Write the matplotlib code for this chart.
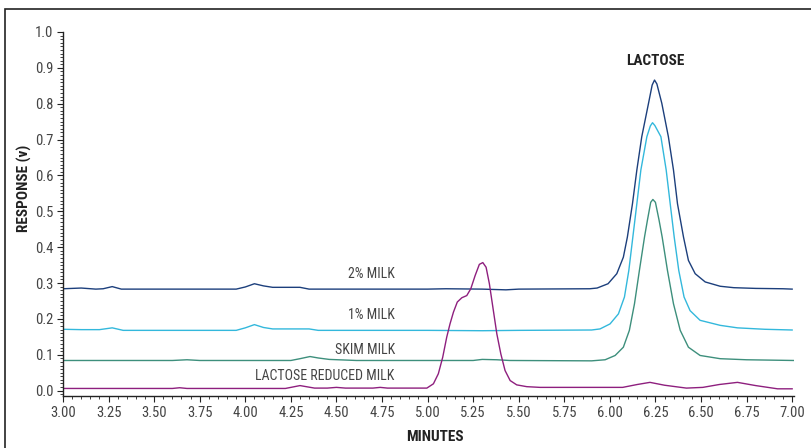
import matplotlib
matplotlib.use("Agg")
import matplotlib.pyplot as plt
from matplotlib import font_manager
from matplotlib.patches import Rectangle
from matplotlib.ticker import MultipleLocator, FormatStrFormatter

# narrow font if there is one, otherwise Liberation Sans
names = set(f.name for f in font_manager.fontManager.ttflist)
fams = [n for n in ['Liberation Sans Narrow', 'Roboto Condensed', 'DejaVu Sans Condensed']
        if n in names] + ['Liberation Sans', 'DejaVu Sans']
plt.rcParams['font.family'] = fams

# retention time (min) / response (v)
t_2pct = [3.00, 3.10, 3.18, 3.22, 3.27, 3.32, 3.40, 3.95, 4.00, 4.05, 4.10, 4.15,
          4.20, 4.30, 4.35, 4.40, 5.00, 5.10, 5.30, 5.43, 5.50, 5.89, 5.93, 5.99,
          6.038, 6.074, 6.096, 6.124, 6.148, 6.175, 6.212, 6.232, 6.245, 6.258, 6.285,
          6.321, 6.349, 6.371, 6.404, 6.431, 6.468, 6.523, 6.605, 6.68, 6.80, 6.95, 7.00]
r_2pct = [0.284, 0.286, 0.283, 0.284, 0.290, 0.283, 0.283, 0.283, 0.289, 0.298, 0.292, 0.288,
          0.288, 0.288, 0.283, 0.283, 0.283, 0.284, 0.283, 0.281, 0.283, 0.284, 0.286, 0.298,
          0.326, 0.372, 0.428, 0.521, 0.615, 0.708, 0.801, 0.852, 0.866, 0.855, 0.801,
          0.708, 0.615, 0.521, 0.428, 0.363, 0.326, 0.303, 0.291, 0.287, 0.285, 0.284, 0.283]

t_1pct = [3.00, 3.10, 3.20, 3.27, 3.33, 3.40, 3.95, 4.00, 4.05, 4.10, 4.15, 4.35,
          4.40, 5.00, 5.30, 5.50, 5.90, 5.946, 6.001, 6.047, 6.080, 6.104, 6.126, 6.148,
          6.170, 6.203, 6.222, 6.234, 6.247, 6.280, 6.309, 6.331, 6.353, 6.378, 6.407,
          6.440, 6.495, 6.605, 6.70, 6.85, 7.00]
r_1pct = [0.171, 0.170, 0.170, 0.175, 0.168, 0.168, 0.168, 0.175, 0.184, 0.176, 0.172, 0.172,
          0.168, 0.168, 0.167, 0.168, 0.169, 0.172, 0.186, 0.214, 0.261, 0.335, 0.428, 0.521,
          0.615, 0.708, 0.738, 0.747, 0.739, 0.708, 0.615, 0.521, 0.428, 0.335, 0.261,
          0.223, 0.196, 0.182, 0.175, 0.171, 0.169]

t_skim = [3.00, 3.60, 3.68, 3.75, 4.25, 4.30, 4.355, 4.40, 4.46, 4.61, 5.25, 5.30,
          5.38, 5.45, 5.90, 5.974, 6.029, 6.074, 6.107, 6.135, 6.162, 6.190, 6.206,
          6.224, 6.236, 6.250, 6.270, 6.287, 6.316, 6.349, 6.386, 6.431, 6.495, 6.605,
          6.75, 7.01]
r_skim = [0.084, 0.084, 0.086, 0.084, 0.084, 0.089, 0.095, 0.091, 0.087, 0.084, 0.084, 0.087,
          0.086, 0.084, 0.083, 0.086, 0.098, 0.121, 0.168, 0.242, 0.335, 0.428, 0.475,
          0.525, 0.533, 0.525, 0.475, 0.428, 0.335, 0.242, 0.168, 0.121, 0.098, 0.089,
          0.086, 0.084]

t_lred = [3.00, 3.60, 3.64, 3.68, 4.22, 4.30, 4.38, 4.45, 4.50, 4.55, 4.70, 4.74,
          4.78, 4.996, 5.032, 5.059, 5.083, 5.105, 5.123, 5.142, 5.163, 5.188, 5.215,
          5.237, 5.261, 5.284, 5.303, 5.321, 5.339, 5.358, 5.380, 5.402, 5.425, 5.453,
          5.489, 5.544, 5.617, 6.07, 6.15, 6.22, 6.30, 6.42, 6.51, 6.60, 6.70, 6.80,
          6.92, 7.00]
r_lred = [0.006, 0.006, 0.008, 0.006, 0.006, 0.014, 0.007, 0.007, 0.009, 0.007, 0.007, 0.009,
          0.007, 0.007, 0.019, 0.047, 0.093, 0.149, 0.186, 0.219, 0.247, 0.259, 0.265,
          0.284, 0.321, 0.352, 0.357, 0.344, 0.298, 0.233, 0.158, 0.102, 0.056, 0.028,
          0.016, 0.011, 0.009, 0.009, 0.017, 0.023, 0.015, 0.007, 0.009, 0.017, 0.023, 0.014,
          0.005, 0.005]

series = [
    (t_2pct, r_2pct, "#1c3f7c"),
    (t_1pct, r_1pct, "#33b8dc"),
    (t_skim, r_skim, "#3d8f7c"),
    (t_lred, r_lred, "#8e1f7e"),
]

fig = plt.figure(figsize=(8.12, 4.48), dpi=100)
ax = fig.add_axes([0.0776, 0.1161, 0.9002, 0.8125])

for t, r, c in series:
    ax.plot(t, r, color=c, lw=1.0, solid_joinstyle='round')

ax.set_xlim(3.0, 7.01)
ax.set_ylim(-0.015, 1.0)

ax.xaxis.set_major_locator(MultipleLocator(0.25))
ax.xaxis.set_minor_locator(MultipleLocator(0.05))
ax.yaxis.set_major_locator(MultipleLocator(0.1))
ax.yaxis.set_minor_locator(MultipleLocator(0.01))
ax.xaxis.set_major_formatter(FormatStrFormatter('%.2f'))
ax.yaxis.set_major_formatter(FormatStrFormatter('%.1f'))

for s in ['top', 'right']:
    ax.spines[s].set_visible(False)
for s in ['left', 'bottom']:
    ax.spines[s].set_color('#222222')
    ax.spines[s].set_linewidth(1.0)

ax.tick_params(which='major', length=4, width=0.8, color='#222222', labelsize=10.5,
               labelcolor='#444444', pad=3)
ax.tick_params(which='minor', length=2, width=0.6, color='#222222')

ax.set_xlabel("MINUTES", fontsize=11, fontweight='bold', color='#222222')
ax.xaxis.set_label_coords(0.509, -0.094)
ax.set_ylabel("RESPONSE (v)", fontsize=11, fontweight='bold', color='#222222')
ax.yaxis.set_label_coords(-0.042, 0.571)

ax.text(6.25, 0.92, "LACTOSE", fontsize=11, fontweight='bold', color='#222222',
        ha='center', va='center')
lab = dict(fontsize=10, color='#444444', ha='right', va='center')
ax.text(4.82, 0.325, "2% MILK", **lab)
ax.text(4.82, 0.211, "1% MILK", **lab)
ax.text(4.82, 0.114, "SKIM MILK", **lab)
ax.text(4.82, 0.040, "LACTOSE REDUCED MILK", **lab)

# outer frame of the figure
fig.patches.append(Rectangle((5 / 812, -0.5), 2.0, 0.98 + 0.5, transform=fig.transFigure,
                             fill=False, edgecolor='#222222', lw=1.2))

fig.savefig("out.png", dpi=100)
